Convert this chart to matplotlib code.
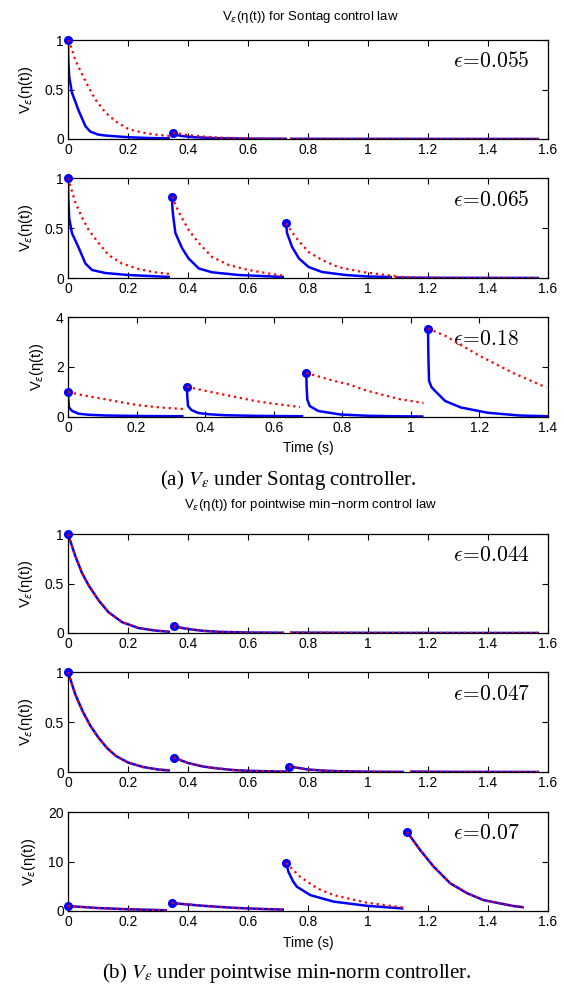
import matplotlib
matplotlib.use("Agg")
import matplotlib.pyplot as plt
from matplotlib.ticker import FormatStrFormatter

plt.rcParams['font.family'] = ['Liberation Sans', 'DejaVu Sans']
plt.rcParams['mathtext.fontset'] = 'dejavusans'

# ---------------- data: Sontag controller ----------------
# eps = 0.055
S1_EPS = "0.055"
S1_JUMP_T = [0.0, 0.35]
S1_JUMP_V = [1.0, 0.065]
S1_BLUE_T = [[0, 0.001, 0.004, 0.013, 0.035, 0.058, 0.074, 0.1, 0.124, 0.2, 0.27, 0.34],
             [0.35, 0.355, 0.38, 0.42, 0.5, 0.6, 0.73],
             [0.74, 0.9, 1.1, 1.3, 1.57]]
S1_BLUE_V = [[1.0, 0.8, 0.63, 0.47, 0.29, 0.13, 0.075, 0.045, 0.035, 0.018, 0.01, 0.006],
             [0.065, 0.045, 0.03, 0.018, 0.008, 0.004, 0.002],
             [0.002, 0.001, 0.001, 0.0005, 0.0003]]
S1_RED_T = [[0, 0.008, 0.024, 0.046, 0.069, 0.091, 0.124, 0.158, 0.202, 0.247, 0.29, 0.34],
            [0.35, 0.4, 0.45, 0.5, 0.6, 0.7, 0.73],
            [0.74, 0.9, 1.1, 1.3, 1.57]]
S1_RED_V = [[1.0, 0.95, 0.8, 0.66, 0.52, 0.40, 0.27, 0.18, 0.10, 0.065, 0.045, 0.03],
            [0.065, 0.04, 0.025, 0.015, 0.006, 0.003, 0.002],
            [0.002, 0.001, 0.001, 0.0005, 0.0003]]

# eps = 0.065
S2_EPS = "0.065"
S2_JUMP_T = [0.0, 0.347, 0.727]
S2_JUMP_V = [1.0, 0.815, 0.547]
S2_BLUE_T = [[0, 0.001, 0.004, 0.013, 0.036, 0.058, 0.08, 0.124, 0.2, 0.34],
             [0.347, 0.348, 0.351, 0.358, 0.38, 0.402, 0.436, 0.48, 0.569, 0.72],
             [0.727, 0.73, 0.747, 0.77, 0.802, 0.847, 0.925, 1.0, 1.08],
             [1.09, 1.2, 1.4, 1.57]]
S2_BLUE_V = [[1.0, 0.8, 0.6, 0.45, 0.30, 0.145, 0.08, 0.05, 0.03, 0.01],
             [0.815, 0.7, 0.61, 0.45, 0.30, 0.195, 0.095, 0.057, 0.03, 0.01],
             [0.547, 0.45, 0.31, 0.195, 0.11, 0.06, 0.03, 0.015, 0.01],
             [0.005, 0.002, 0.001, 0.0005]]
S2_RED_T = [[0, 0.024, 0.046, 0.069, 0.102, 0.135, 0.18, 0.235, 0.29, 0.34],
            [0.347, 0.369, 0.402, 0.436, 0.48, 0.536, 0.602, 0.669, 0.725],
            [0.727, 0.758, 0.802, 0.847, 0.9, 0.98, 1.06, 1.09],
            [1.09, 1.2, 1.4, 1.57]]
S2_RED_V = [[1.0, 0.76, 0.61, 0.48, 0.35, 0.23, 0.145, 0.09, 0.057, 0.04],
            [0.815, 0.66, 0.48, 0.35, 0.21, 0.13, 0.08, 0.045, 0.02],
            [0.547, 0.41, 0.26, 0.18, 0.11, 0.06, 0.03, 0.02],
            [0.012, 0.004, 0.001, 0.0005]]

# eps = 0.18
S3_EPS = "0.18"
S3_JUMP_T = [0.0, 0.347, 0.695, 1.05]
S3_JUMP_V = [1.0, 1.21, 1.76, 3.54]
S3_BLUE_T = [[0, 0.001, 0.003, 0.012, 0.031, 0.06, 0.109, 0.206, 0.337],
             [0.347, 0.348, 0.35, 0.36, 0.38, 0.41, 0.46, 0.55, 0.686],
             [0.695, 0.696, 0.698, 0.705, 0.73, 0.794, 0.872, 0.95, 1.037],
             [1.05, 1.051, 1.053, 1.06, 1.07, 1.1, 1.146, 1.224, 1.317, 1.4]]
S3_BLUE_V = [[1.0, 0.7, 0.38, 0.24, 0.13, 0.09, 0.06, 0.04, 0.03],
             [1.21, 0.8, 0.44, 0.28, 0.16, 0.11, 0.07, 0.045, 0.03],
             [1.76, 1.2, 0.7, 0.44, 0.24, 0.1, 0.05, 0.03, 0.02],
             [3.54, 2.5, 1.45, 1.2, 1.05, 0.64, 0.38, 0.17, 0.06, 0.03]]
S3_RED_T = [[0, 0.05, 0.109, 0.16, 0.206, 0.27, 0.337],
            [0.347, 0.4, 0.449, 0.5, 0.546, 0.6, 0.677],
            [0.695, 0.775, 0.82, 0.872, 0.92, 0.969, 1.037],
            [1.05, 1.1, 1.15, 1.2, 1.25, 1.3, 1.35, 1.395]]
S3_RED_V = [[1.0, 0.85, 0.71, 0.58, 0.47, 0.38, 0.32],
            [1.21, 1.05, 0.91, 0.77, 0.64, 0.53, 0.4],
            [1.76, 1.45, 1.3, 1.05, 0.88, 0.71, 0.56],
            [3.54, 3.25, 2.85, 2.45, 2.1, 1.75, 1.45, 1.18]]

# ---------------- data: pointwise min-norm controller ----------------
# eps = 0.044
M1_EPS = "0.044"
M1_JUMP_T = [0.0, 0.352]
M1_JUMP_V = [1.0, 0.067]
M1_T = [[0, 0.024, 0.046, 0.069, 0.102, 0.135, 0.18, 0.235, 0.29, 0.34],
        [0.352, 0.4, 0.45, 0.5, 0.6, 0.72],
        [0.74, 0.9, 1.1, 1.3, 1.57]]
M1_V = [[1.0, 0.78, 0.61, 0.48, 0.33, 0.21, 0.11, 0.05, 0.025, 0.012],
        [0.067, 0.04, 0.022, 0.012, 0.005, 0.002],
        [0.004, 0.002, 0.001, 0.0005, 0.0003]]

# eps = 0.047
M2_EPS = "0.047"
M2_JUMP_T = [0.0, 0.352, 0.737]
M2_JUMP_V = [1.0, 0.145, 0.055]
M2_T = [[0, 0.025, 0.05, 0.075, 0.1, 0.13, 0.16, 0.2, 0.25, 0.3, 0.34],
        [0.352, 0.4, 0.45, 0.5, 0.55, 0.6, 0.7, 0.73],
        [0.737, 0.8, 0.85, 0.9, 1.0, 1.12],
        [1.14, 1.3, 1.45, 1.57]]
M2_V = [[1.0, 0.77, 0.6, 0.46, 0.35, 0.24, 0.16, 0.095, 0.05, 0.025, 0.015],
        [0.145, 0.09, 0.055, 0.035, 0.02, 0.012, 0.005, 0.004],
        [0.055, 0.025, 0.014, 0.008, 0.003, 0.001],
        [0.004, 0.001, 0.0005, 0.0003]]

# eps = 0.07
M3_EPS = "0.07"
M3_JUMP_T = [0.0, 0.346, 0.727, 1.13]
M3_JUMP_V = [1.0, 1.6, 9.7, 16.0]
M3_BLUE_T = [[0, 0.1, 0.2, 0.33],
             [0.346, 0.45, 0.55, 0.65, 0.72],
             [0.727, 0.735, 0.75, 0.763, 0.808, 0.885, 0.996, 1.118],
             [1.13, 1.174, 1.219, 1.274, 1.33, 1.385, 1.485, 1.52]]
M3_BLUE_V = [[1.0, 0.6, 0.35, 0.15],
             [1.6, 1.05, 0.65, 0.4, 0.28],
             [9.7, 7.9, 6.0, 4.9, 3.2, 1.9, 1.05, 0.5],
             [16.0, 12.3, 8.95, 5.6, 3.6, 2.2, 1.0, 0.75]]
M3_RED_T = [[0, 0.1, 0.2, 0.33],
            [0.346, 0.45, 0.55, 0.65, 0.72],
            [0.727, 0.774, 0.83, 0.886, 0.996, 1.118],
            [1.13, 1.174, 1.219, 1.274, 1.33, 1.385, 1.485, 1.52]]
M3_RED_V = [[1.0, 0.6, 0.35, 0.15],
            [1.6, 1.05, 0.65, 0.4, 0.28],
            [9.7, 6.9, 4.6, 3.2, 1.68, 0.7],
            [16.0, 12.3, 8.95, 5.6, 3.6, 2.2, 1.0, 0.75]]

X_TICKS_16 = [0, 0.2, 0.4, 0.6, 0.8, 1.0, 1.2, 1.4, 1.6]
X_TICKS_14 = [0, 0.2, 0.4, 0.6, 0.8, 1.0, 1.2, 1.4]
Y_TICKS_1 = [0, 0.5, 1]
Y_TICKS_4 = [0, 2, 4]
Y_TICKS_20 = [0, 10, 20]

TITLE_A = r'V$_\varepsilon$(η(t)) for Sontag control law'
TITLE_B = r'V$_\varepsilon$(η(t)) for pointwise min−norm control law'
YLABEL = r'V$_\varepsilon$(η(t))'
XLABEL = 'Time (s)'
CAP_A = r'(a) $V_\varepsilon$ under Sontag controller.'
CAP_B = r'(b) $V_\varepsilon$ under pointwise min-norm controller.'

# ---------------- figure ----------------
W, H = 564, 984
fig = plt.figure(figsize=(W / 100, H / 100), dpi=100)

AX_L, AX_R = 68, 548

def px_axes(top, bottom, left=AX_L, right=AX_R):
    return fig.add_axes([left / W, 1 - bottom / H, (right - left) / W, (bottom - top) / H])

BLUE = (0, 0, 1)
RED = (1, 0, 0)
FS = 10

def panel(ax, bt, bv, rt, rv, jt, jv, eps, xticks, yticks, xmax, ymax):
    for t, v in zip(bt, bv):
        ax.plot(t, v, color=BLUE, lw=1.8, solid_capstyle='butt', zorder=2)
    ax.plot(jt, jv, 'o', color=BLUE, ms=5.5, zorder=3, clip_on=False)
    for t, v in zip(rt, rv):
        ax.plot(t, v, color=RED, lw=1.6, ls=(0, (1, 1.7)), zorder=4)
    ax.set_xlim(0, xmax)
    ax.set_ylim(0, ymax)
    ax.set_xticks(xticks)
    ax.set_yticks(yticks)
    ax.xaxis.set_major_formatter(FormatStrFormatter('%g'))
    ax.yaxis.set_major_formatter(FormatStrFormatter('%g'))
    ax.tick_params(direction='in', top=True, right=True, length=4, width=0.8,
                   labelsize=FS, pad=3)
    for s in ax.spines.values():
        s.set_linewidth(0.9)
    ax.set_ylabel(YLABEL, fontsize=10.5, labelpad=7)
    ax.text(0.802, 0.78, r'$\epsilon\!=\!%s$' % eps, transform=ax.transAxes,
            fontsize=15.5, math_fontfamily='cm', ha='left', va='center')

def fig_title(text, y_px):
    fig.text((AX_L + AX_R) / 2 / W + 0.004, 1 - y_px / H, text, ha='center',
             va='center', fontsize=9.5)

ax1 = px_axes(40, 139)
panel(ax1, S1_BLUE_T, S1_BLUE_V, S1_RED_T, S1_RED_V, S1_JUMP_T, S1_JUMP_V,
      S1_EPS, X_TICKS_16, Y_TICKS_1, 1.6, 1)
fig_title(TITLE_A, 17)

ax2 = px_axes(178, 278)
panel(ax2, S2_BLUE_T, S2_BLUE_V, S2_RED_T, S2_RED_V, S2_JUMP_T, S2_JUMP_V,
      S2_EPS, X_TICKS_16, Y_TICKS_1, 1.6, 1)

ax3 = px_axes(317, 417)
panel(ax3, S3_BLUE_T, S3_BLUE_V, S3_RED_T, S3_RED_V, S3_JUMP_T, S3_JUMP_V,
      S3_EPS, X_TICKS_14, Y_TICKS_4, 1.4, 4)
ax3.set_xlabel(XLABEL, fontsize=FS, labelpad=4)

fig.text(0.512, 1 - 480 / H, CAP_A, ha='center', va='center', fontsize=15,
         family='Liberation Serif', math_fontfamily='stix')

ax4 = px_axes(534, 633)
panel(ax4, M1_T, M1_V, M1_T, M1_V, M1_JUMP_T, M1_JUMP_V,
      M1_EPS, X_TICKS_16, Y_TICKS_1, 1.6, 1)
fig_title(TITLE_B, 505)

ax5 = px_axes(672, 772)
panel(ax5, M2_T, M2_V, M2_T, M2_V, M2_JUMP_T, M2_JUMP_V,
      M2_EPS, X_TICKS_16, Y_TICKS_1, 1.6, 1)

ax6 = px_axes(812, 911)
panel(ax6, M3_BLUE_T, M3_BLUE_V, M3_RED_T, M3_RED_V, M3_JUMP_T, M3_JUMP_V,
      M3_EPS, X_TICKS_16, Y_TICKS_20, 1.6, 20)
ax6.set_xlabel(XLABEL, fontsize=FS, labelpad=5)

fig.text(0.508, 1 - 973 / H, CAP_B, ha='center', va='center', fontsize=15,
         family='Liberation Serif', math_fontfamily='stix')

fig.savefig('out.png', dpi=100)
